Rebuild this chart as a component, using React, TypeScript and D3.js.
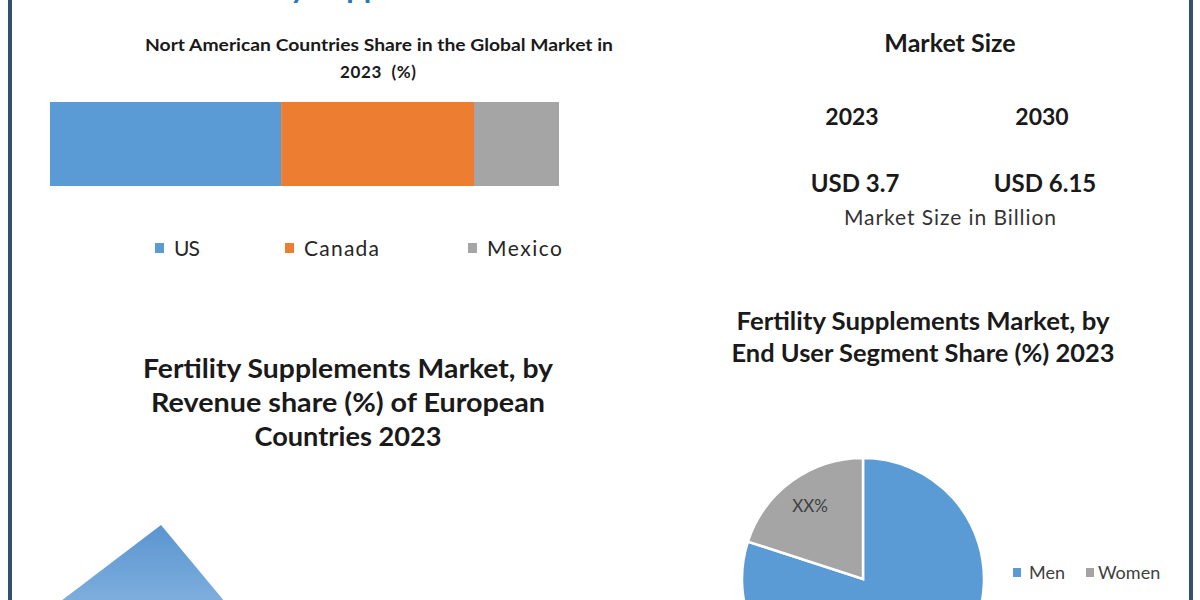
import React from "react";
import * as d3 from "d3";

// ---- Data ----
const naCountries = ["US", "Canada", "Mexico"];
const naShares = [45.4, 37.9, 16.7];
const naColors = ["#5b9bd5", "#ed7d31", "#a5a5a5"];

const marketYears = ["2023", "2030"];
const marketValues = ["USD 3.7", "USD 6.15"];

const endUsers = ["Men", "Women"];
const endUserShares = [80, 20];
const endUserColors = ["#5b9bd5", "#a5a5a5"];
const endUserLabels = ["", "XX%"];

// European pyramid: only the apex layer is visible in the frame
const europeLevels = [0, 1];

const W = 1200;
const H = 600;
const FONT = "Lato, 'Open Sans', sans-serif";
const BORDER = "#34506f";

export default function App() {
  // Stacked bar
  const barX = d3.scaleLinear().domain([0, d3.sum(naShares)]).range([50, 559]);
  const stacked: { name: string; x0: number; x1: number; color: string }[] = [];
  let acc = 0;
  naShares.forEach((v, i) => {
    stacked.push({ name: naCountries[i], x0: acc, x1: acc + v, color: naColors[i] });
    acc += v;
  });

  const legendX = [155, 285, 468];
  const legendW = [26, 75, 75];

  // Pie
  const pieData = d3
    .pie<number>()
    .sort(null)
    .value((d) => d)(endUserShares);
  const R = 121;
  const arc = d3.arc<d3.PieArcDatum<number>>().innerRadius(0).outerRadius(R);
  const labelArc = d3.arc<d3.PieArcDatum<number>>().innerRadius(90).outerRadius(90);
  const cx = 863;
  const cy = 579;

  // Pyramid geometry
  const pyY = d3.scaleLinear().domain([0, 1]).range([525, 620]);
  const pyLeft = d3.scaleLinear().domain([0, 1]).range([161, 36]);
  const pyRight = d3.scaleLinear().domain([0, 1]).range([161, 240]);
  const pyPoints = [
    [pyLeft(europeLevels[0]), pyY(europeLevels[0])],
    [pyRight(europeLevels[1]), pyY(europeLevels[1])],
    [pyLeft(europeLevels[1]), pyY(europeLevels[1])],
  ];
  const pyPath = d3.line()(pyPoints as [number, number][]) + "Z";

  const euTitle = [
    { t: "Fertility Supplements Market, by", w: 410 },
    { t: "Revenue share (%) of European", w: 394 },
    { t: "Countries 2023", w: 187 },
  ];
  const euTitleRight = [
    { t: "Fertility Supplements Market, by", w: 373 },
    { t: "End User Segment Share (%) 2023", w: 383 },
  ];

  return (
    <svg
      width={W}
      height={H}
      style={{ position: "absolute", left: 0, top: 0, background: "#fff" }}
      fontFamily={FONT}
    >
      <defs>
        <linearGradient id="pyGrad" x1="0" y1="0" x2="0" y2="1">
          <stop offset="0%" stopColor="#5a95d0" />
          <stop offset="100%" stopColor="#86b4e0" />
        </linearGradient>
      </defs>
      <rect x={0} y={0} width={W} height={H} fill="#ffffff" />

      {/* Frame borders */}
      <rect x={8} y={0} width={4} height={H} fill={BORDER} />
      <rect x={1189} y={0} width={4} height={H} fill={BORDER} />

      {/* Cut-off main title (only descenders visible in the frame) */}
      <text
        x={397}
        y={-2}
        textAnchor="middle"
        fontSize={28}
        fontWeight="bold"
        fill="#2e75b6"
        textLength={393}
        lengthAdjust="spacingAndGlyphs"
      >
        Fertility Supplements Market
      </text>

      {/* North America chart */}
      <text x={379} y={51} textAnchor="middle" fontSize={17} fontWeight="bold" fill="#1a1a1a" textLength={468} lengthAdjust="spacingAndGlyphs">
        Nort American Countries Share in the Global Market in
      </text>
      <text x={378} y={78} textAnchor="middle" fontSize={17} fontWeight="bold" fill="#1a1a1a" textLength={76} lengthAdjust="spacing" style={{ whiteSpace: "pre" }}>
        2023  (%)
      </text>
      {stacked.map((s) => (
        <rect key={s.name} x={barX(s.x0)} y={102} width={barX(s.x1) - barX(s.x0)} height={84} fill={s.color} />
      ))}
      {naCountries.map((c, i) => (
        <g key={c}>
          <rect x={legendX[i]} y={243} width={9} height={10} fill={naColors[i]} />
          <text x={legendX[i] + 19} y={256} fontSize={21} fill="#262626" textLength={legendW[i]} lengthAdjust="spacing">
            {c}
          </text>
        </g>
      ))}

      {/* Market size */}
      <text x={950} y={52} textAnchor="middle" fontSize={25} fontWeight="bold" fill="#1a1a1a">
        Market Size
      </text>
      {marketYears.map((y, i) => (
        <text key={y} x={[852, 1042][i]} y={125} textAnchor="middle" fontSize={23} fontWeight="bold" fill="#1a1a1a">
          {y}
        </text>
      ))}
      {marketValues.map((v, i) => (
        <text key={v} x={[855, 1045][i]} y={192} textAnchor="middle" fontSize={24} fontWeight="bold" fill="#1a1a1a">
          {v}
        </text>
      ))}
      <text x={950} y={225} textAnchor="middle" fontSize={21} fill="#333" textLength={212} lengthAdjust="spacing">
        Market Size in Billion
      </text>

      {/* European chart */}
      {euTitle.map((d, i) => (
        <text key={d.t} x={348} y={378 + i * 34} textAnchor="middle" fontSize={26} fontWeight="bold" fill="#1a1a1a" textLength={d.w} lengthAdjust="spacingAndGlyphs">
          {d.t}
        </text>
      ))}
      <path d={pyPath} fill="url(#pyGrad)" />

      {/* End user pie */}
      {euTitleRight.map((d, i) => (
        <text key={d.t} x={923} y={330 + i * 32} textAnchor="middle" fontSize={24} fontWeight="bold" fill="#1a1a1a" textLength={d.w} lengthAdjust="spacingAndGlyphs">
          {d.t}
        </text>
      ))}
      <g transform={`translate(${cx},${cy})`}>
        {pieData.map((d, i) => (
          <path key={endUsers[i]} d={arc(d) || ""} fill={endUserColors[i]} stroke="#fff" strokeWidth={2.5} />
        ))}
        {pieData.map((d, i) =>
          endUserLabels[i] ? (
            <text
              key={"l" + i}
              x={labelArc.centroid(d)[0]}
              y={labelArc.centroid(d)[1]}
              dy="0.35em"
              textAnchor="middle"
              fontSize={17}
              fill="#404040"
            >
              {endUserLabels[i]}
            </text>
          ) : null
        )}
      </g>
      {endUsers.map((u, i) => (
        <g key={u}>
          <rect x={[1013, 1086][i]} y={568} width={8} height={9} fill={endUserColors[i]} />
          <text x={[1029, 1098][i]} y={579} fontSize={18} fill="#404040">
            {u}
          </text>
        </g>
      ))}
    </svg>
  );
}
